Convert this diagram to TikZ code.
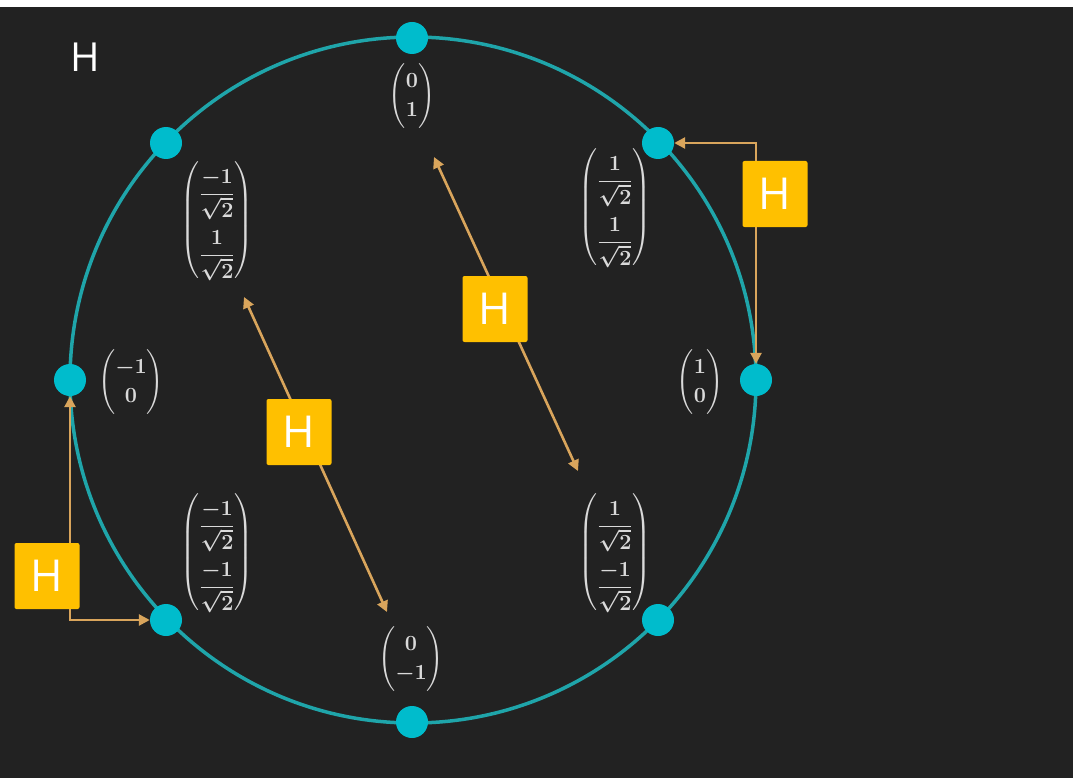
\documentclass[tikz,border=0pt]{standalone}
\usepackage{amsmath}
\usepackage{graphicx}
\usepackage{fontspec}
\newfontfamily\boxfont{Open Sans}
\usetikzlibrary{arrows.meta}
\definecolor{bg}{HTML}{222222}
\definecolor{ring}{HTML}{1FA5AA}
\definecolor{dotc}{HTML}{00BCCC}
\definecolor{arr}{HTML}{D9A55C}
\definecolor{gate}{HTML}{FFC000}
\definecolor{vec}{HTML}{DADADA}
\newcommand{\vecstyle}{\fontsize{17.28}{21}\selectfont\boldmath}
% two-entry column vector with roomy rows, enlarged
\newcommand{\colvec}[3][1.1]{\scalebox{1.25}{$\def\arraystretch{#1}\left(\begin{array}{@{}c@{}}#2\\#3\end{array}\right)$}}
\begin{document}
\begin{tikzpicture}[x=1pt,y=-1pt,
  state/.style={circle,fill=dotc,minimum size=32pt,inner sep=0pt},
  vlabel/.style={text=vec,inner sep=0pt,font=\vecstyle},
  gatebox/.style={fill=gate,rounded corners=2pt,minimum width=65pt,minimum height=66pt,inner sep=0pt,text=white,font=\boxfont\fontsize{44}{44}\selectfont},
  hop/.style={draw=arr,line width=2.6pt,{Triangle[length=11pt,width=11pt]}-{Triangle[length=11pt,width=11pt]}}]
% canvas
\fill[bg] (0,0) rectangle (1073,778);
\fill[white] (0,0) rectangle (1073,7);
\useasboundingbox (0,0) rectangle (1073,778);
% title
\node[text=white,font=\boxfont\fontsize{40}{40}\selectfont,inner sep=0pt] (title) at (85,57) {H};
% state circle
\draw[ring,line width=3.5pt] (413,380) circle[radius=343];
\node[state] (N)  at (412,38) {};
\node[state] (S)  at (412,722) {};
\node[state] (W)  at (70,380) {};
\node[state] (E)  at (756,380) {};
\node[state] (NE) at (658,143) {};
\node[state] (NW) at (166,143) {};
\node[state] (SW) at (166,620) {};
\node[state] (SE) at (658,620) {};
% state vectors
\node[vlabel] (vN)  at (412,96)  {\colvec{0}{1}};
\node[vlabel] (vS)  at (411,659) {\colvec{0}{-1}};
\node[vlabel] (vW)  at (131,382) {\colvec{-1}{0}};
\node[vlabel] (vE)  at (700,382) {\colvec{1}{0}};
\node[vlabel] (vNE) at (615,207) {\colvec[2.2]{\dfrac{1}{\sqrt{2}}}{\dfrac{1}{\sqrt{2}}}};
\node[vlabel] (vNW) at (217,220) {\colvec[2.2]{\dfrac{-1}{\sqrt{2}}}{\dfrac{1}{\sqrt{2}}}};
\node[vlabel] (vSW) at (217,552) {\colvec[2.2]{\dfrac{-1}{\sqrt{2}}}{\dfrac{-1}{\sqrt{2}}}};
\node[vlabel] (vSE) at (615,552) {\colvec[2.2]{\dfrac{1}{\sqrt{2}}}{\dfrac{-1}{\sqrt{2}}}};
% Hadamard transitions
\coordinate (a1) at (434,157);
\coordinate (a2) at (578,471);
\coordinate (b1) at (244,297);
\coordinate (b2) at (387,612);
\draw[hop] (NE.east) -| (E.north);
\draw[hop] (W.south) |- (SW.west);
\draw[hop] (a1) -- (a2);
\draw[hop] (b1) -- (b2);
% gate labels
\node[gatebox] (g1) at (775,194) {H};
\node[gatebox] (g2) at (495,309) {H};
\node[gatebox] (g3) at (299,432) {H};
\node[gatebox] (g4) at (47,576)  {H};
\end{tikzpicture}
\end{document}
